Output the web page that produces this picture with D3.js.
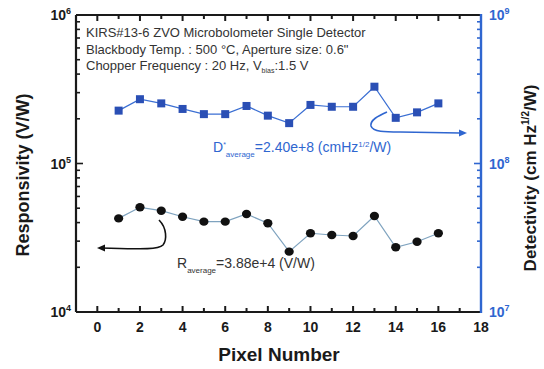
<!DOCTYPE html>
<html><head><meta charset="utf-8">
<script src="https://cdn.jsdelivr.net/npm/d3@7"></script>
<style>body{margin:0;background:#fff}svg{display:block}text{font-family:"Liberation Sans",Arial,sans-serif}</style>
</head><body><svg id="c" width="544" height="369"></svg>
<script>
const pixels = [1,2,3,4,5,6,7,8,9,10,11,12,13,14,15,16];
const responsivity = [4.27e4,5.07e4,4.81e4,4.38e4,4.06e4,4.06e4,4.57e4,3.96e4,2.55e4,3.39e4,3.30e4,3.25e4,4.43e4,2.73e4,2.97e4,3.39e4];
const detectivity = [2.27e8,2.71e8,2.54e8,2.33e8,2.15e8,2.15e8,2.44e8,2.10e8,1.87e8,2.48e8,2.41e8,2.41e8,3.29e8,2.03e8,2.21e8,2.54e8];
const xTicks = [0,2,4,6,8,10,12,14,16,18];
const leftTicks = [1e4,1e5,1e6];
const rightTicks = [1e7,1e8,1e9];
const infoLines = ["KIRS#13-6 ZVO Microbolometer Single Detector","Blackbody Temp. : 500 °C, Aperture size: 0.6\"","Chopper Frequency : 20 Hz, V_bias:1.5 V"];

const svg = d3.select("#c");
const L=76,R=481,T=15,B=312;
const blue="#2f66d0", dark="#1a1a1a";
const x = d3.scaleLinear().domain([-1,18]).range([L,R]);
const yL = d3.scaleLog().domain([1e4,1e6]).range([B,T]);
const yR = d3.scaleLog().domain([1e7,1e9]).range([B,T]);

const g = svg.append("g");
function isMajor(v){return Math.abs(Math.log10(v)-Math.round(Math.log10(v)))<1e-9;}
d3.range(-1,19).forEach(v=>{
  const len = v%2===0?6:4;
  g.append("line").attr("x1",x(v)).attr("x2",x(v)).attr("y1",B).attr("y2",B-len).attr("stroke",dark).attr("stroke-width",2);
  g.append("line").attr("x1",x(v)).attr("x2",x(v)).attr("y1",T).attr("y2",T+len).attr("stroke",dark).attr("stroke-width",2);
});
yL.ticks().forEach(v=>{
  const len = isMajor(v)?7:4;
  g.append("line").attr("x1",L).attr("x2",L+len).attr("y1",yL(v)).attr("y2",yL(v)).attr("stroke",dark).attr("stroke-width",1.6);
});
yR.ticks().forEach(v=>{
  const len = isMajor(v)?7:4;
  g.append("line").attr("x1",R).attr("x2",R-len).attr("y1",yR(v)).attr("y2",yR(v)).attr("stroke",blue).attr("stroke-width",1.6);
});
g.append("line").attr("x1",L).attr("x2",R).attr("y1",B).attr("y2",B).attr("stroke",dark).attr("stroke-width",2.2);
g.append("line").attr("x1",L).attr("x2",R).attr("y1",T).attr("y2",T).attr("stroke",dark).attr("stroke-width",2.2);
g.append("line").attr("x1",L).attr("x2",L).attr("y1",T).attr("y2",B).attr("stroke",dark).attr("stroke-width",2.2);
g.append("line").attr("x1",R).attr("x2",R).attr("y1",T-1).attr("y2",B+1).attr("stroke",blue).attr("stroke-width",2.4);

xTicks.forEach(v=>{
  svg.append("text").attr("x",x(v)).attr("y",B+20).attr("text-anchor","middle")
    .attr("font-size",14).attr("font-weight","bold").attr("fill",dark).text(v);
});
function powLabel(xp,yp,exp,color,anchorRight){
  const t = svg.append("text").attr("y",yp+5).attr("font-size",14).attr("font-weight","bold").attr("fill",color);
  t.append("tspan").text("10");
  t.append("tspan").attr("dy",-6).attr("font-size",9).text(exp);
  if(anchorRight){t.attr("x",xp).attr("text-anchor","end");} else t.attr("x",xp);
}
leftTicks.forEach(v=>powLabel(71,yL(v),Math.round(Math.log10(v)),dark,true));
rightTicks.forEach(v=>powLabel(489,yR(v),Math.round(Math.log10(v)),blue,false));

svg.append("text").attr("x",279).attr("y",361).attr("text-anchor","middle")
  .attr("font-size",19).attr("font-weight","bold").attr("fill",dark).text("Pixel Number");
svg.append("text").attr("transform","translate(29,175) rotate(-90)").attr("text-anchor","middle")
  .attr("font-size",18).attr("font-weight","bold").attr("fill",dark).text("Responsivity (V/W)");
const dt = svg.append("text").attr("transform","translate(536,178) rotate(-90)").attr("text-anchor","middle")
  .attr("font-size",17).attr("font-weight","bold").attr("fill",dark);
dt.append("tspan").text("Detectivity (cm Hz");
dt.append("tspan").attr("dy",-7).attr("font-size",10).text("1/2");
dt.append("tspan").attr("dy",7).text("/W)");

infoLines.forEach((s,i)=>{
  const t = svg.append("text").attr("x",86).attr("y",37+i*16.5).attr("font-size",13).attr("fill","#333");
  if(s.includes("_bias")){
    const [a,b]=s.split("_bias");
    t.append("tspan").text(a);
    t.append("tspan").attr("dy",3).attr("font-size",7).text("bias");
    t.append("tspan").attr("dy",-3).text(b);
  } else t.text(s);
});

svg.append("path").datum(pixels.map((p,i)=>[p,responsivity[i]]))
  .attr("d",d3.line().x(d=>x(d[0])).y(d=>yL(d[1]))).attr("fill","none").attr("stroke","#7fa3bf").attr("stroke-width",1.2);
svg.append("path").datum(pixels.map((p,i)=>[p,detectivity[i]]))
  .attr("d",d3.line().x(d=>x(d[0])).y(d=>yR(d[1]))).attr("fill","none").attr("stroke","#3b6fd3").attr("stroke-width",1.2);
svg.selectAll("ellipse.r").data(pixels).enter().append("ellipse")
  .attr("cx",(p)=>x(p)).attr("cy",(p,i)=>yL(responsivity[i])).attr("rx",4.6).attr("ry",4.2).attr("fill","#111");
svg.selectAll("rect.d").data(pixels).enter().append("rect")
  .attr("x",p=>x(p)-4).attr("y",(p,i)=>yR(detectivity[i])-4).attr("width",8).attr("height",8).attr("fill","#2a4fb5");

const dA = svg.append("text").attr("x",213).attr("y",152).attr("font-size",14).attr("fill","#2f66d0");
dA.append("tspan").text("D");
dA.append("tspan").attr("dy",-5).attr("font-size",7).text("*");
dA.append("tspan").attr("dy",10).attr("font-size",8).text("average");
dA.append("tspan").attr("dy",-5).text("=2.40e+8 (cmHz");
dA.append("tspan").attr("dy",-5).attr("font-size",8).text("1/2");
dA.append("tspan").attr("dy",5).text("/W)");
const rA = svg.append("text").attr("x",177).attr("y",268).attr("font-size",14).attr("fill","#333");
rA.append("tspan").text("R");
rA.append("tspan").attr("dy",5).attr("font-size",8).text("average");
rA.append("tspan").attr("dy",-5).text("=3.88e+4 (V/W)");

svg.append("path").attr("d","M159,220 C167,228 167,240 163,245 C158,250 140,249 100,248")
  .attr("fill","none").attr("stroke","#111").attr("stroke-width",1.6);
svg.append("path").attr("d","M97,248 L105,244.5 L105,251.5 Z").attr("fill","#111");
svg.append("path").attr("d","M387,112 C378,116 370,120 371,126 C373,132 385,132 400,132 L460,133")
  .attr("fill","none").attr("stroke",blue).attr("stroke-width",1.6);
svg.append("path").attr("d","M467,133 L459,129.5 L459,136.5 Z").attr("fill",blue);
</script></body></html>
